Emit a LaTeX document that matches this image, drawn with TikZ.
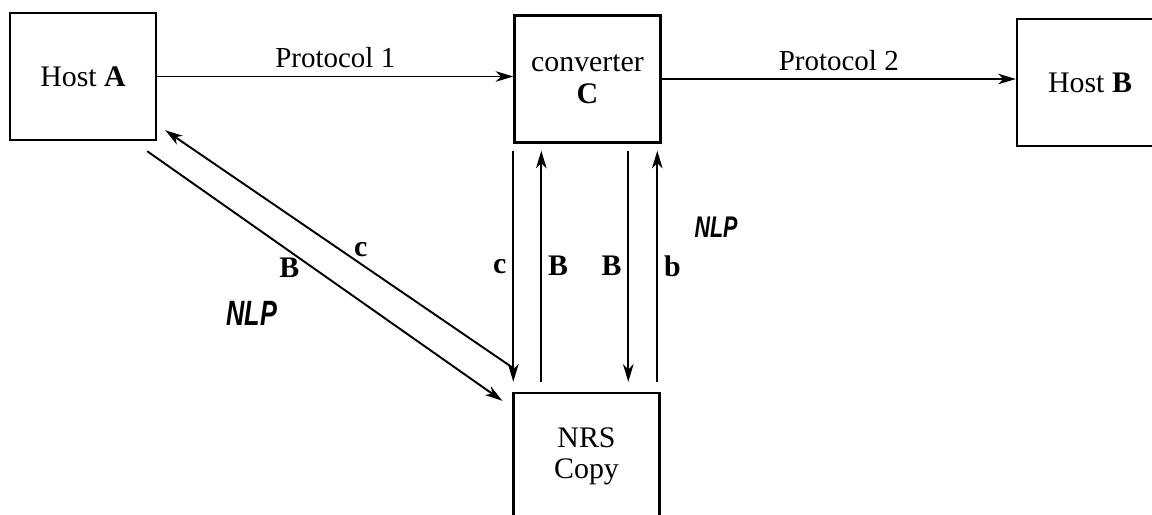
\documentclass[tikz,border=0pt]{standalone}
\usepackage{fontspec}
\setmainfont{Liberation Serif}
\newfontfamily\handfont{Liberation Sans}
\usetikzlibrary{arrows.meta}

\begin{document}
\begin{tikzpicture}[x=0.02cm, y=-0.02cm,
    box/.style={draw, line width=1.4pt, minimum width=2.92cm, minimum height=2.54cm,
                align=center, font=\fontsize{17}{18}\selectfont},
    flow/.style={line width=1.1pt, -{Stealth[length=10pt,width=6pt,inset=3pt]}},
    revflow/.style={line width=1.1pt, {Stealth[length=10pt,width=6pt,inset=3pt]}-},
    lab/.style={font=\fontsize{17}{18}\selectfont\bfseries},
    proto/.style={font=\fontsize{16.5}{18}\selectfont},
    note/.style={font=\handfont\bfseries\itshape\fontsize{20}{20}\selectfont, xscale=0.72}]
    % Page frame
    \clip (0,0) rectangle (1152,514);

    % Boxes
    \node[box] (hostA) at (83,76.5) {Host \textbf{A}};
    \node[box] (conv) at (587.5,79) {converter\\\textbf{C}};
    \node[box] (hostB) at (1090,82.5) {Host \textbf{B}};
    \node[box] (nrs) at (586.5,456.5) {NRS\\Copy};

    % Protocol arrows along the top
    \draw[flow] (hostA.east) -- (hostA.east -| conv.west)
        node[proto, midway, above=1pt] {Protocol 1};
    \draw[flow] (conv.east) -- (conv.east -| hostB.west)
        node[proto, midway, above=1pt] {Protocol 2};

    % Diagonal pair between Host A and the NRS copy
    \draw[flow] ([shift={(-10,10)}]hostA.south east) -- ([shift={(-10,9)}]nrs.north west)
        node[lab, pos=0.4, below] {B};
    \draw[flow] ([shift={(2,-23)}]nrs.north west) -- ([shift={(8,-11)}]hostA.south east)
        node[lab, pos=0.44, above] {c};

    % Vertical arrows between converter and NRS copy
    \foreach \dx/\lab/\side/\sty in {0/c/left/flow, 28/B/right/revflow, 115/B/left/flow, 144/b/right/revflow} {
        \coordinate (top\dx) at ([shift={(\dx,7)}]conv.south west);
        \coordinate (bot\dx) at ([shift={(0,-10)}]top\dx |- nrs.north);
        \draw[\sty] (top\dx) -- (bot\dx) node[lab, midway, \side] {\lab};
    }

    % Hand-written notes
    \node[note] (nlpA) at (252,313) {NLP};
    \node[note, scale=0.85] (nlpB) at (716,227) {NLP};
\end{tikzpicture}
\end{document}
